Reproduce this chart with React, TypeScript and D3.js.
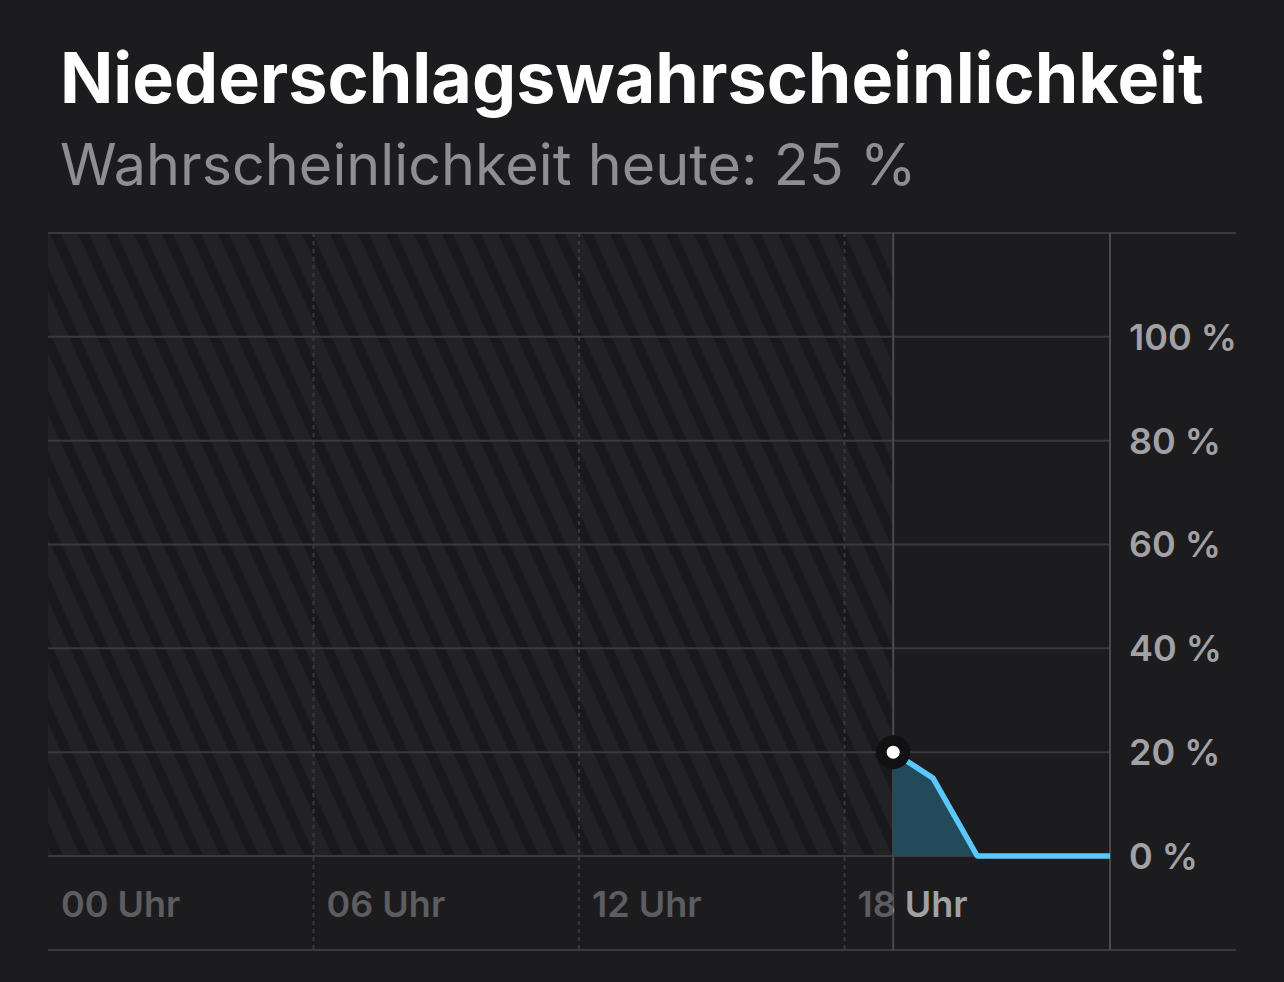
import React, { useEffect } from 'react';
import * as d3 from 'd3';

const title = 'Niederschlagswahrscheinlichkeit';
const subtitle = 'Wahrscheinlichkeit heute: 25 %';
const hours = [19.1, 20, 21, 22, 23, 24];
const probability = [20, 15, 0, 0, 0, 0];
const xTickHours = [0, 6, 12, 18];
const xTickLabels = ['00 Uhr', '06 Uhr', '12 Uhr', '18 Uhr'];
const yTicks = [0, 20, 40, 60, 80, 100];
const yTickLabels = ['0 %', '20 %', '40 %', '60 %', '80 %', '100 %'];
const nowHour = 19.1;

const W = 1284;
const H = 982;
const left = 48;
const plotRight = 1110;
const outerRight = 1236;
const top = 233;
const baseline = 856;
const bottom = 950;

export default function App() {
  useEffect(() => {
    document.body.style.margin = '0';
    document.body.style.background = '#1c1c1e';
  }, []);

  const x = d3.scaleLinear().domain([0, 24]).range([left, plotRight]);
  const y = d3.scaleLinear().domain([0, 120]).range([baseline, top]);
  const pts = hours.map((h, i) => [h, probability[i]] as [number, number]);
  const line = d3.line<[number, number]>().x(d => x(d[0])).y(d => y(d[1]));
  const area = d3.area<[number, number]>().x(d => x(d[0])).y0(y(0)).y1(d => y(d[1]));
  const nowX = x(nowHour);
  const font = 'Inter, "Open Sans", sans-serif';

  return (
    <svg width={W} height={H} style={{ display: 'block', background: '#1c1c1e' }}>
      <defs>
        <pattern id="hatch" patternUnits="userSpaceOnUse" width={25.5} height={20} patternTransform="rotate(-24.4)">
          <rect x={0} y={0} width={25.5} height={20} fill="#222224" />
          <rect x={0} y={0} width={10} height={20} fill="#19191b" />
        </pattern>
        <clipPath id="clipLeft"><rect x={0} y={0} width={nowX} height={H} /></clipPath>
        <clipPath id="clipRight"><rect x={nowX} y={0} width={W - nowX} height={H} /></clipPath>
      </defs>

      <text x={60} y={103} fill="#ffffff" fontFamily={font} fontWeight={700} fontSize={70}>{title}</text>
      <text x={60} y={185} fill="#8e8e93" fontFamily={font} fontWeight={400} fontSize={57.5}>{subtitle}</text>

      {/* past hatch */}
      <rect x={left} y={top} width={nowX - left} height={baseline - top} fill="url(#hatch)" />

      {/* horizontal gridlines */}
      {yTicks.map(t => (
        <line key={'g' + t} x1={left} x2={plotRight} y1={y(t)} y2={y(t)} stroke="#3a3a3c" strokeWidth={2} />
      ))}
      <line x1={left} x2={outerRight} y1={top} y2={top} stroke="#3a3a3c" strokeWidth={2} />
      <line x1={left} x2={outerRight} y1={bottom} y2={bottom} stroke="#3a3a3c" strokeWidth={2} />

      {/* dashed hour lines */}
      {xTickHours.filter(h => h > 0).map(h => (
        <line key={'d' + h} x1={x(h)} x2={x(h)} y1={top} y2={bottom} stroke="#38383a" strokeWidth={2} strokeDasharray="4 4" />
      ))}

      {/* now and end lines */}
      <line x1={nowX} x2={nowX} y1={top} y2={bottom} stroke="#4a4a4e" strokeWidth={2} />
      <line x1={plotRight} x2={plotRight} y1={top} y2={bottom} stroke="#4a4a4e" strokeWidth={2} />

      {/* x labels */}
      {xTickHours.map((h, i) => (
        <g key={'xl' + h}>
          <text x={x(h) + 13} y={917} fill="#5d5d61" fontFamily={font} fontWeight={600} fontSize={36} clipPath="url(#clipLeft)">{xTickLabels[i]}</text>
          <text x={x(h) + 13} y={917} fill="#a1a1a6" fontFamily={font} fontWeight={600} fontSize={36} clipPath="url(#clipRight)">{xTickLabels[i]}</text>
        </g>
      ))}

      {/* y labels */}
      {yTicks.map((t, i) => (
        <text key={'yl' + t} x={1129} y={y(t)} dy="0.36em" fill="#a1a1a6" fontFamily={font} fontWeight={600} fontSize={36}>{yTickLabels[i]}</text>
      ))}

      {/* data */}
      <path d={area(pts) || ''} fill="#224a5a" />
      <path d={line(pts) || ''} fill="none" stroke="#5ac8fa" strokeWidth={5.5} strokeLinejoin="round" />
      <circle cx={x(hours[0])} cy={y(probability[0])} r={17} fill="#111113" />
      <circle cx={x(hours[0])} cy={y(probability[0])} r={6.5} fill="#ffffff" />
    </svg>
  );
}
